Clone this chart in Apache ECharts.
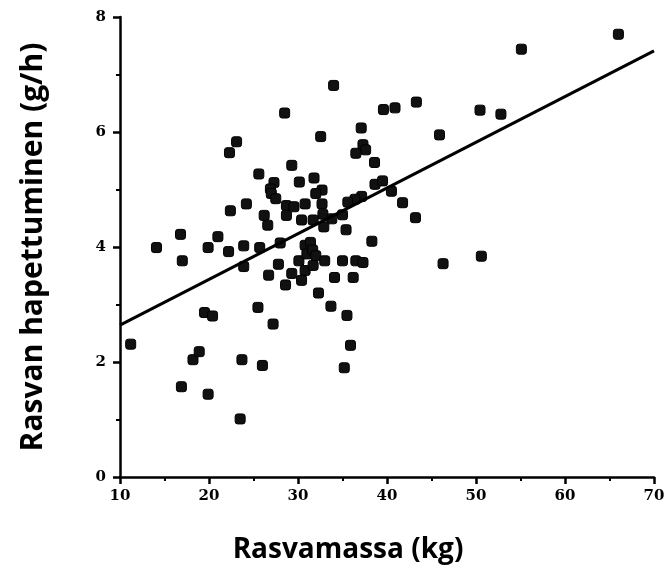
<!DOCTYPE html>
<html>
<head>
<meta charset="utf-8">
<script src="https://cdn.jsdelivr.net/npm/echarts@6/dist/echarts.min.js"></script>
<style>
  html, body { margin: 0; padding: 0; background: #fff; }
  #chart { width: 664px; height: 576px; }
</style>
</head>
<body>
<div id="chart"></div>
<script>
// fat mass (kg) vs fat oxidation (g/h)
const fatMass = [
  11.2, 14.1, 16.8, 17.0, 16.9, 18.2, 18.9, 19.5, 20.4, 19.9,
  19.9, 21.0, 22.3, 23.1, 22.4, 22.2, 23.7, 23.5, 24.2, 23.9,
  23.9, 25.7, 25.6, 25.5, 26.0, 26.6, 26.2, 26.7, 27.2, 27.3,
  26.9, 27.0, 27.5, 28.0, 27.8, 28.6, 28.5, 28.7, 28.7, 29.3,
  29.3, 29.55, 30.15, 30.1, 30.4, 30.8, 30.8, 31.0, 30.8, 30.4,
  31.8, 32.7, 32.0, 32.7, 32.8, 31.7, 33.8, 35.0, 32.9, 35.4,
  38.3, 31.4, 31.65, 32.0, 31.7, 33.0, 35.0, 36.5, 37.3, 34.1,
  36.2, 32.3, 33.7, 35.5, 35.9, 35.2, 34.0, 32.55, 39.6, 40.9,
  43.3, 37.1, 37.3, 37.6, 36.5, 38.6, 45.9, 38.65, 39.5, 40.5,
  37.15, 36.4, 35.6, 41.75, 43.2, 55.1, 66.0, 50.45, 52.8, 50.6,
  46.3
];
const fatOx = [
  2.31, 3.99, 4.22, 3.76, 1.57, 2.04, 2.18, 2.86, 2.80, 1.44,
  3.99, 4.18, 5.64, 5.83, 4.63, 3.92, 2.04, 1.01, 4.75, 4.02,
  3.66, 3.99, 5.27, 2.95, 1.94, 4.38, 4.55, 3.51, 2.66, 5.12,
  5.01, 4.93, 4.84, 4.07, 3.70, 3.34, 6.33, 4.72, 4.55, 5.42,
  3.54, 4.70, 5.13, 3.76, 4.47, 4.75, 4.03, 3.88, 3.59, 3.42,
  5.20, 4.99, 4.93, 4.75, 4.57, 4.47, 4.49, 4.56, 4.35, 4.30,
  4.10, 4.08, 3.95, 3.85, 3.68, 3.76, 3.76, 3.76, 3.73, 3.47,
  3.47, 3.20, 2.97, 2.81, 2.29, 1.90, 6.81, 5.92, 6.39, 6.42,
  6.52, 6.07, 5.78, 5.69, 5.63, 5.47, 5.95, 5.09, 5.15, 4.97,
  4.88, 4.83, 4.78, 4.77, 4.51, 7.44, 7.70, 6.38, 6.31, 3.84,
  3.71
];
// regression line end points
const fitX = [10, 70];
const fitY = [2.64, 7.41];

const xTicks = [10, 20, 30, 40, 50, 60, 70];
const yTicks = [0, 2, 4, 6, 8];

const tickFont = {
  fontFamily: 'DejaVu Serif',
  fontWeight: 'bold',
  fontSize: 15,
  color: '#000',
};

const chart = echarts.init(document.getElementById('chart'));
chart.setOption({
  animation: false,
  backgroundColor: '#fff',
  grid: { left: 120, right: 10, top: 17, bottom: 99, outerBoundsMode: 'none' },
  xAxis: {
    type: 'value',
    min: xTicks[0],
    max: xTicks[xTicks.length - 1],
    interval: 10,
    name: 'Rasvamassa (kg)',
    nameLocation: 'middle',
    nameGap: 59,
    // title sits a bit left of the axis centre in the original
    nameTextStyle: {
      fontFamily: 'Open Sans', fontWeight: 'bold', fontSize: 28, color: '#000',
      padding: [0, 78, 0, 0],
    },
    axisLine: { lineStyle: { color: '#000', width: 2.5 } },
    axisTick: { show: true, length: 7, lineStyle: { color: '#000', width: 2.5 } },
    minorTick: { show: true, splitNumber: 2, length: 4, lineStyle: { color: '#000', width: 2 } },
    axisLabel: { ...tickFont, margin: 12 },
    splitLine: { show: false },
  },
  yAxis: {
    type: 'value',
    min: yTicks[0],
    max: yTicks[yTicks.length - 1],
    interval: 2,
    name: 'Rasvan hapettuminen (g/h)',
    nameLocation: 'middle',
    nameGap: 72,
    nameTextStyle: { fontFamily: 'Open Sans', fontWeight: 'bold', fontSize: 30, color: '#000' },
    axisLine: { show: true, lineStyle: { color: '#000', width: 2.5 } },
    axisTick: { show: true, length: 7, lineStyle: { color: '#000', width: 2.5 } },
    minorTick: { show: true, splitNumber: 2, length: 4, lineStyle: { color: '#000', width: 2 } },
    axisLabel: { ...tickFont, margin: 14 },
    splitLine: { show: false },
  },
  series: [
    {
      type: 'line',
      data: fitX.map((x, i) => [x, fitY[i]]),
      symbol: 'none',
      lineStyle: { color: '#000', width: 3 },
      silent: true,
    },
    {
      type: 'scatter',
      data: fatMass.map((x, i) => [x, fatOx[i]]),
      symbol: 'roundRect',
      symbolSize: 10,
      itemStyle: { color: '#111', opacity: 1, borderColor: '#000', borderWidth: 1 },
    },
  ],
});
</script>
</body>
</html>
